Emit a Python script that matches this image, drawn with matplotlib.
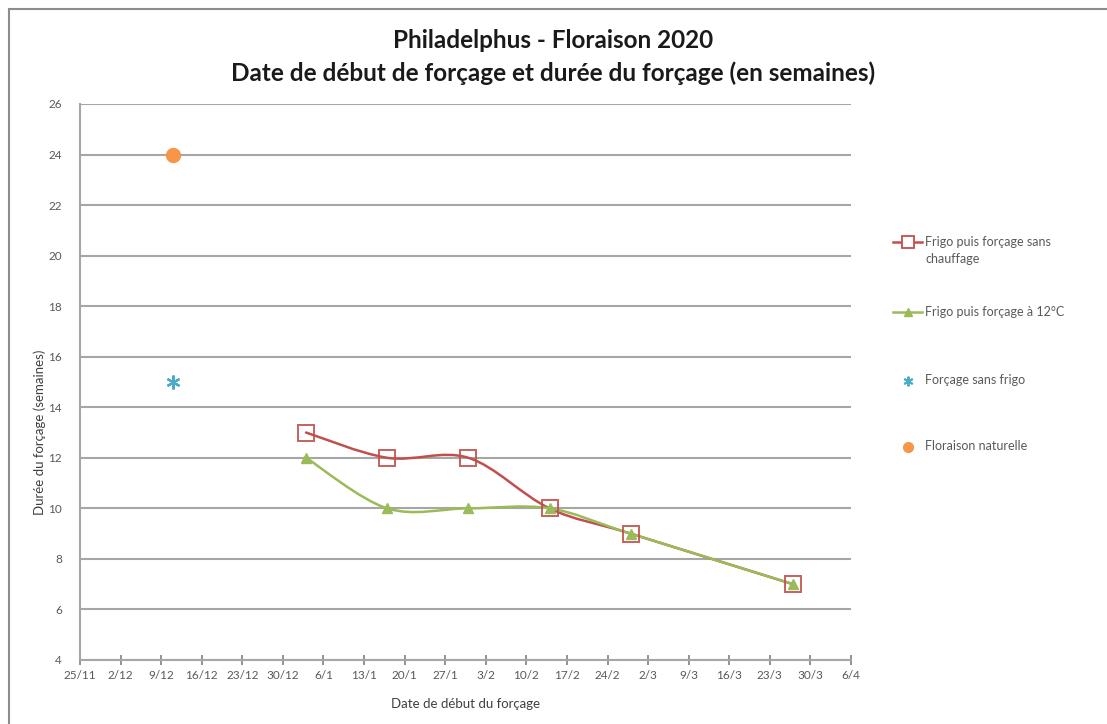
import pandas as pd
import matplotlib
matplotlib.use("Agg")
import matplotlib.pyplot as plt
import matplotlib.dates as mdates
from matplotlib.path import Path
from matplotlib.patches import PathPatch
from matplotlib.lines import Line2D
import numpy as np

plt.rcParams['font.family'] = ['Lato', 'DejaVu Sans']

# dates de début de forçage (semaines de forçage)
dates_frigo = ['2020-01-03', '2020-01-17', '2020-01-31', '2020-02-14', '2020-02-28', '2020-03-27']
frigo_sans_chauffage = [13, 12, 12, 10, 9, 7]
frigo_12c = [12, 10, 10, 10, 9, 7]

dates_sans_frigo = ['2019-12-11']
sans_frigo = [15]

dates_naturelle = ['2019-12-11']
naturelle = [24]

labels = ['Frigo puis forçage sans\nchauffage', 'Frigo puis forçage à 12°C',
          'Forçage sans frigo', 'Floraison naturelle']

RED = '#c0504d'
GREEN = '#9bbb59'
BLUE = '#4bacc6'
ORANGE = '#f79646'
TXT = '#595959'


def smooth_path(x, y):
    # courbe lissée façon Excel (Catmull-Rom -> Bézier cubique)
    pts = np.column_stack([x, y])
    verts = [pts[0]]
    codes = [Path.MOVETO]
    n = len(pts)
    for i in range(n - 1):
        p0 = pts[i - 1] if i > 0 else pts[i]
        p1 = pts[i]
        p2 = pts[i + 1]
        p3 = pts[i + 2] if i + 2 < n else pts[i + 1]
        c1 = p1 + (p2 - p0) / 6
        c2 = p2 - (p3 - p1) / 6
        verts += [c1, c2, p2]
        codes += [Path.CURVE4] * 3
    return Path(verts, codes)


xf = mdates.date2num(pd.to_datetime(dates_frigo))
xs = mdates.date2num(pd.to_datetime(dates_sans_frigo))
xn = mdates.date2num(pd.to_datetime(dates_naturelle))

fig = plt.figure(figsize=(11.07, 7.24), dpi=100)
ax = fig.add_axes([0.0723, 0.0884, 0.6964, 0.768])

for yv, col in [(frigo_sans_chauffage, RED), (frigo_12c, GREEN)]:
    ax.add_patch(PathPatch(smooth_path(xf, yv), facecolor='none', edgecolor=col,
                           lw=1.8, zorder=3, capstyle='round'))

ax.plot(xf, frigo_sans_chauffage, ls='none', marker='s', ms=11, mfc='none',
        mec=RED, mew=1.4, alpha=0.9, zorder=4)
ax.plot(xf, frigo_12c, ls='none', marker='^', ms=7, color=GREEN, zorder=5)
ax.plot(xs, sans_frigo, ls='none', marker=(6, 2, 0), ms=10, mec=BLUE, mew=1.6, zorder=4)
ax.plot(xn, naturelle, ls='none', marker='o', ms=10, color=ORANGE, zorder=4)

x0 = mdates.date2num(pd.Timestamp('2019-11-25'))
x1 = mdates.date2num(pd.Timestamp('2020-04-06'))
ax.set_xlim(x0, x1)
ax.set_ylim(4, 26)
ax.set_xticks(np.arange(x0, x1 + 1, 7))
ax.xaxis.set_major_formatter(plt.FuncFormatter(
    lambda v, _: f"{mdates.num2date(v).day}/{mdates.num2date(v).month}"))
ax.set_yticks(range(4, 27, 2))

ax.grid(axis='y', color='#a6a6a6', lw=1.5)
ax.set_axisbelow(True)
for s in ['top', 'right']:
    ax.spines[s].set_visible(False)
for s in ['left', 'bottom']:
    ax.spines[s].set_color('#a6a6a6')
    ax.spines[s].set_linewidth(1.5)
ax.tick_params(axis='x', direction='inout', length=7, width=1.2, color='#808080',
               labelsize=8.5, labelcolor=TXT, pad=4)
ax.tick_params(axis='y', length=0, labelsize=8.5, labelcolor=TXT, pad=13)

ax.set_xlabel('Date de début du forçage', fontsize=9.5, color='#404040', labelpad=12)
ax.set_ylabel('Durée du forçage (semaines)', fontsize=9.5, color='#404040')
ax.yaxis.set_label_coords(-0.044, 0.41)

fig.text(0.5, 0.944, 'Philadelphus - Floraison 2020', ha='center', va='center',
         fontsize=17.5, fontweight='bold', color='#1a1a1a')
fig.text(0.5, 0.899, 'Date de début de forçage et durée du forçage (en semaines)',
         ha='center', va='center', fontsize=17.5, fontweight='bold', color='#1a1a1a')

# légende à droite, symbole aligné sur la première ligne du libellé
markers = [
    dict(marker='s', ms=8, mfc='white', mec=RED, mew=1.3),
    dict(marker='^', ms=6, color=GREEN),
    dict(marker=(6, 2, 0), ms=7, mec=BLUE, mew=1.4),
    dict(marker='o', ms=7, color=ORANGE),
]
line_colors = [RED, GREEN, None, None]
leg_y = [0.6657, 0.5690, 0.4738, 0.3826]
hx0, hx1, tx = 0.8067, 0.8329, 0.8356
for mk, lc, lab, y in zip(markers, line_colors, labels, leg_y):
    if lc is not None:
        fig.add_artist(Line2D([hx0, hx1], [y, y], color=lc, lw=1.8))
    fig.add_artist(Line2D([(hx0 + hx1) / 2], [y], ls='none', **mk))
    fig.text(tx, y + 0.009, lab, ha='left', va='top', fontsize=9, color=TXT,
             linespacing=1.55)

# cadre du graphique
fig.add_artist(Line2D([0.0081, 0.0081], [0, 0.9876], color='#8c8c8c', lw=1.5))
fig.add_artist(Line2D([0.0081, 1], [0.9876, 0.9876], color='#8c8c8c', lw=1.5))

fig.savefig('out.png', dpi=100)
